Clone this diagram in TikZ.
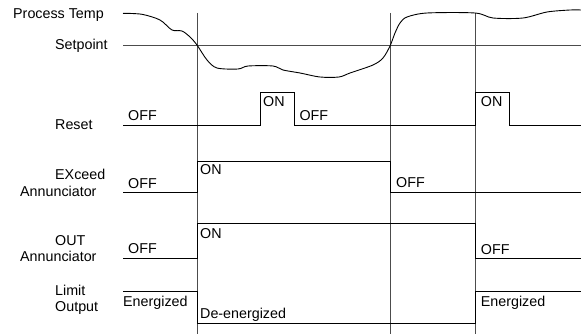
\documentclass[tikz,border=0pt]{standalone}
\usepackage{fontspec}
\setmainfont{Liberation Sans}
\usepackage{tikz}

\tikzset{
  sig/.style={line width=0.8pt},
  guide/.style={line width=0.8pt, black!70},
  lbl/.style={anchor=base west, inner sep=0pt, font=\fontsize{14.3}{17}\selectfont}
}

\begin{document}
\begin{tikzpicture}[x=1pt, y=-1pt]
        \useasboundingbox (0, 0) rectangle (581, 334);
        % switching instants
        \coordinate (t1) at (197, 13);
        \coordinate (t2) at (390, 13);
        \coordinate (t3) at (475, 13);
        \foreach \t in {t1, t2, t3}
          \draw [guide] (\t) -- (\t |- 0, 334);
        % process temperature and setpoint
        \node [lbl] (ptemp) at (13, 18.5) {Process Temp};
        \node [lbl] (setp) at (55, 50) {Setpoint};
        \draw [guide] (123, 45.7) -- (581, 45.7);
        \draw [line width=0.9pt] plot [smooth, tension=0.5] coordinates {
          (123, 13.3) (142, 14.3) (160, 20) (172, 30) (182, 31) (190, 37)
          (197, 45) (207, 60) (217, 68) (238, 69) (248, 66) (273, 66)
          (283, 70) (300, 73) (320, 77) (339, 77) (350, 73) (373, 65)
          (383, 58) (390, 46) (395, 33) (400, 23) (407, 17) (427, 13)
          (475, 13) (493, 18) (523, 18) (547, 12) (570, 10) (581, 10)};
        % reset
        \node [lbl] (reset) at (55, 129.5) {Reset};
        \draw [sig] (123, 125) -- (260, 125) -- (260, 92) -- (294, 92) -- (294, 125)
          -- (475, 125) -- (475, 92) -- (509, 92) -- (509, 125) -- (581, 125);
        \node [lbl] (resoffa) at (128, 120.7) {OFF};
        \node [lbl] (resona) at (263, 107) {ON};
        \node [lbl] (resoffb) at (299.3, 120.5) {OFF};
        \node [lbl] (resonb) at (480.7, 107) {ON};
        % exceed annunciator
        \node [lbl] (exc) at (55, 179) {EXceed};
        \node [lbl] (excann) at (20, 196.5) {Annunciator};
        \draw [sig] (123, 192) -- (197, 192) -- (197, 161) -- (390, 161) -- (390, 192) -- (581, 192);
        \node [lbl] (excoffa) at (128, 188.3) {OFF};
        \node [lbl] (excon) at (200, 175) {ON};
        \node [lbl] (excoffb) at (396, 187.5) {OFF};
        % out annunciator
        \node [lbl] (out) at (55, 245) {OUT};
        \node [lbl] (outann) at (20, 261.7) {Annunciator};
        \draw [sig] (123, 258) -- (197, 258) -- (197, 223) -- (475, 223) -- (475, 258) -- (581, 258);
        \node [lbl] (outoffa) at (128, 253.5) {OFF};
        \node [lbl] (outon) at (200, 238.3) {ON};
        \node [lbl] (outoffb) at (480.7, 254) {OFF};
        % limit output
        \node [lbl] (lim) at (55, 295) {Limit};
        \node [lbl] (limout) at (55, 311.5) {Output};
        \draw [sig] (123, 291) -- (197, 291) -- (197, 323) -- (475, 323) -- (475, 291) -- (581, 291);
        \node [lbl] (enera) at (123, 306) {Energized};
        \node [lbl] (deener) at (200, 318) {De-energized};
        \node [lbl] (enerb) at (480.7, 306) {Energized};
      \end{tikzpicture}
\end{document}
